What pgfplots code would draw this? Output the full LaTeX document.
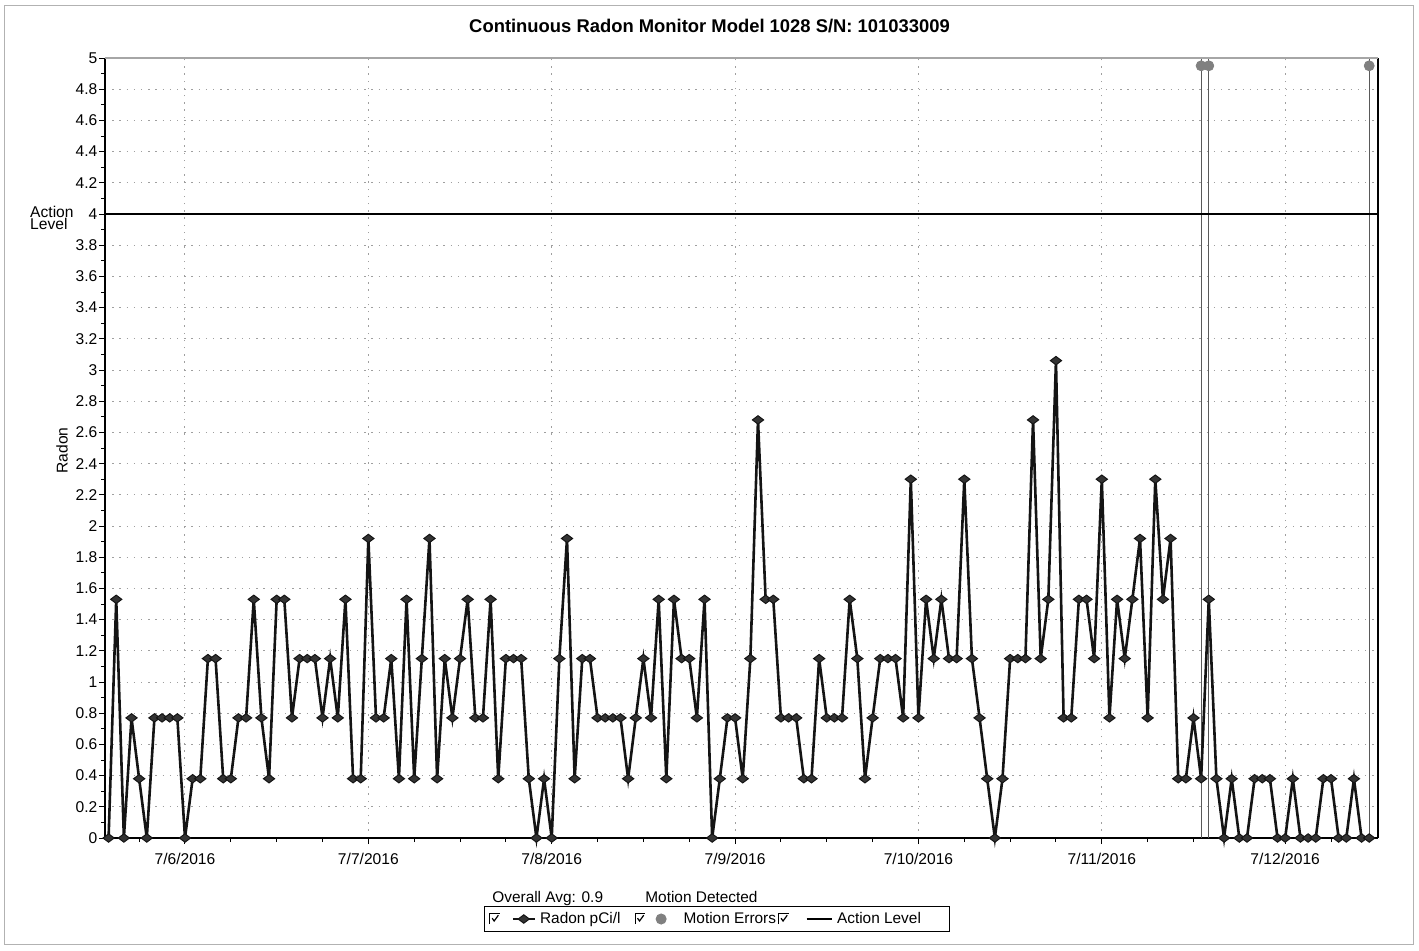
\documentclass[border=0pt]{standalone}
\usepackage{fontspec}
\setmainfont{Liberation Sans}
\usepackage{pgfplots}
\pgfplotsset{compat=1.18}
\usepackage{pgfplotstable}

% hourly readings, hours counted from 7/6/2016 0:00
\pgfplotstableread{
h radon
-10 0
-9 1.53
-8 0
-7 0.77
-6 0.38
-5 0
-4 0.77
-3 0.77
-2 0.77
-1 0.77
0 0
1 0.38
2 0.38
3 1.15
4 1.15
5 0.38
6 0.38
7 0.77
8 0.77
9 1.53
10 0.77
11 0.38
12 1.53
13 1.53
14 0.77
15 1.15
16 1.15
17 1.15
18 0.77
19 1.15
20 0.77
21 1.53
22 0.38
23 0.38
24 1.92
25 0.77
26 0.77
27 1.15
28 0.38
29 1.53
30 0.38
31 1.15
32 1.92
33 0.38
34 1.15
35 0.77
36 1.15
37 1.53
38 0.77
39 0.77
40 1.53
41 0.38
42 1.15
43 1.15
44 1.15
45 0.38
46 0
47 0.38
48 0
49 1.15
50 1.92
51 0.38
52 1.15
53 1.15
54 0.77
55 0.77
56 0.77
57 0.77
58 0.38
59 0.77
60 1.15
61 0.77
62 1.53
63 0.38
64 1.53
65 1.15
66 1.15
67 0.77
68 1.53
69 0
70 0.38
71 0.77
72 0.77
73 0.38
74 1.15
75 2.68
76 1.53
77 1.53
78 0.77
79 0.77
80 0.77
81 0.38
82 0.38
83 1.15
84 0.77
85 0.77
86 0.77
87 1.53
88 1.15
89 0.38
90 0.77
91 1.15
92 1.15
93 1.15
94 0.77
95 2.30
96 0.77
97 1.53
98 1.15
99 1.53
100 1.15
101 1.15
102 2.30
103 1.15
104 0.77
105 0.38
106 0
107 0.38
108 1.15
109 1.15
110 1.15
111 2.68
112 1.15
113 1.53
114 3.06
115 0.77
116 0.77
117 1.53
118 1.53
119 1.15
120 2.30
121 0.77
122 1.53
123 1.15
124 1.53
125 1.92
126 0.77
127 2.30
128 1.53
129 1.92
130 0.38
131 0.38
132 0.77
133 0.38
134 1.53
135 0.38
136 0
137 0.38
138 0
139 0
140 0.38
141 0.38
142 0.38
143 0
144 0
145 0.38
146 0
147 0
148 0
149 0.38
150 0.38
151 0
152 0
153 0.38
154 0
155 0
}\radondata

\pgfplotstableread{
h motion
133 4.95
134 4.95
155 4.95
}\motiondata

\newcommand{\chkbox}{%
  \draw[black, line width=0.6pt] (0pt,-2.6pt) -- (0pt,2.8pt) -- (5pt,2.8pt);
  \draw[black, line width=0.6pt] (1.2pt,0.4pt) -- (2.2pt,-1pt) -- (4.3pt,1.9pt);
}

\pgfplotsset{
  radon legend/.style={legend image code/.code={\chkbox
    \draw[##1, mark repeat=2, mark phase=2] plot coordinates {(11.5pt,0pt) (17pt,0pt) (22.5pt,0pt)};}},
  motion legend/.style={legend image code/.code={\chkbox
    \draw[##1] plot coordinates {(13pt,0pt)};
    \path (22pt,0pt);}},
  level legend/.style={legend image code/.code={\chkbox
    \draw[##1] (14pt,0pt) -- (26.5pt,0pt);}},
}

\begin{document}
\begin{tikzpicture}
\begin{axis}[
  at={(0,0)}, anchor=south west,
  scale only axis, width=636.5pt, height=390pt,
  clip=false,
  xmin=-10.47, xmax=156.15, ymin=0, ymax=5,
  axis x line*=bottom, axis y line*=box,
  axis line style={black, line width=1.3pt},
  ytick pos=left,
  xtick={0,24,48,72,96,120,144},
  xticklabels={7/6/2016,7/7/2016,7/8/2016,7/9/2016,7/10/2016,7/11/2016,7/12/2016},
  minor xtick={-6,6,12,18,30,36,42,54,60,66,78,84,90,102,108,114,126,132,138,150},
  ytick={0,0.2,0.4,0.6,0.8,1,1.2,1.4,1.6,1.8,2,2.2,2.4,2.6,2.8,3,3.2,3.4,3.6,3.8,4,4.2,4.4,4.6,4.8,5},
  minor y tick num=1,
  tick align=outside,
  major tick length=3pt, minor tick length=2pt,
  every tick/.style={black, line width=0.5pt},
  /pgf/number format/assume math mode=true,
  tick label style={font=\fontsize{7.8}{9}\selectfont, black},
  yticklabel style={inner xsep=0.6pt},
  xticklabel style={yshift=-1pt},
  grid=major,
  major grid style={gray!75, line width=0.5pt, dash pattern=on 0.7pt off 2.9pt},
  title={Continuous Radon Monitor Model 1028 S/N: 101033009},
  title style={font=\bfseries\fontsize{9.2}{11}\selectfont, at={(rel axis cs:0.5,1)}, anchor=center, xshift=-16pt, yshift=10pt},
  ylabel={Radon},
  ylabel style={font=\fontsize{7.8}{9}\selectfont, at={(rel axis cs:0,0.497)}, anchor=center, rotate=0, yshift=21.5pt},
  legend columns=3,
  legend style={at={(0.4808,0)}, anchor=center, yshift=-40.5pt, draw=black, line width=0.5pt,
    font=\fontsize{7.7}{9}\selectfont, inner xsep=2.5pt, inner ysep=0.8pt,
    /tikz/every even column/.append style={column sep=5pt},
    /tikz/row 1 column 4/.append style={column sep=-1pt}},
  legend cell align=left,
]

\addplot[ycomb, forget plot, black!65, line width=0.6pt] coordinates {(133,5) (134,5) (155,5)};

\addplot[color=black!92, line width=1.3pt, mark=diamond*, mark size=2.8pt,
  mark options={rotate=90, fill=black!80, draw=black!92, line width=0.5pt}, radon legend]
  table[x=h, y=radon] {\radondata};
\addlegendentry{Radon pCi/l}

\addplot[only marks, mark=*, mark size=2.5pt, color=gray, motion legend]
  table[x=h, y=motion] {\motiondata};
\addlegendentry{Motion Errors}

\addplot[black, line width=1.4pt, level legend]
  coordinates {(-10.47,4) (156.15,4)};
\addlegendentry{Action Level\hspace*{10pt}}

\draw[gray!70, line width=0.6pt] (rel axis cs:0,1) -- (rel axis cs:1,1);
\node[anchor=east, align=left, inner sep=0pt, font=\fontsize{7.8}{6.3}\selectfont]
  at (rel axis cs:0,0.8) [xshift=-15.5pt, yshift=-2pt] {Action\\Level};
\node[anchor=base west, inner sep=0pt, font=\fontsize{7.7}{9}\selectfont]
  at (rel axis cs:0.304,0) [yshift=-32pt] {Overall Avg: 0.9};
\node[anchor=base west, inner sep=0pt, font=\fontsize{7.7}{9}\selectfont]
  at (rel axis cs:0.4242,0) [yshift=-32pt] {Motion Detected};
\end{axis}
\draw[gray!60, line width=0.5pt] (-50pt,-53pt) rectangle (654pt,416.5pt);
\pgfresetboundingbox
\path (-52.5pt,-56pt) rectangle (657pt,419pt);
\end{tikzpicture}
\end{document}
